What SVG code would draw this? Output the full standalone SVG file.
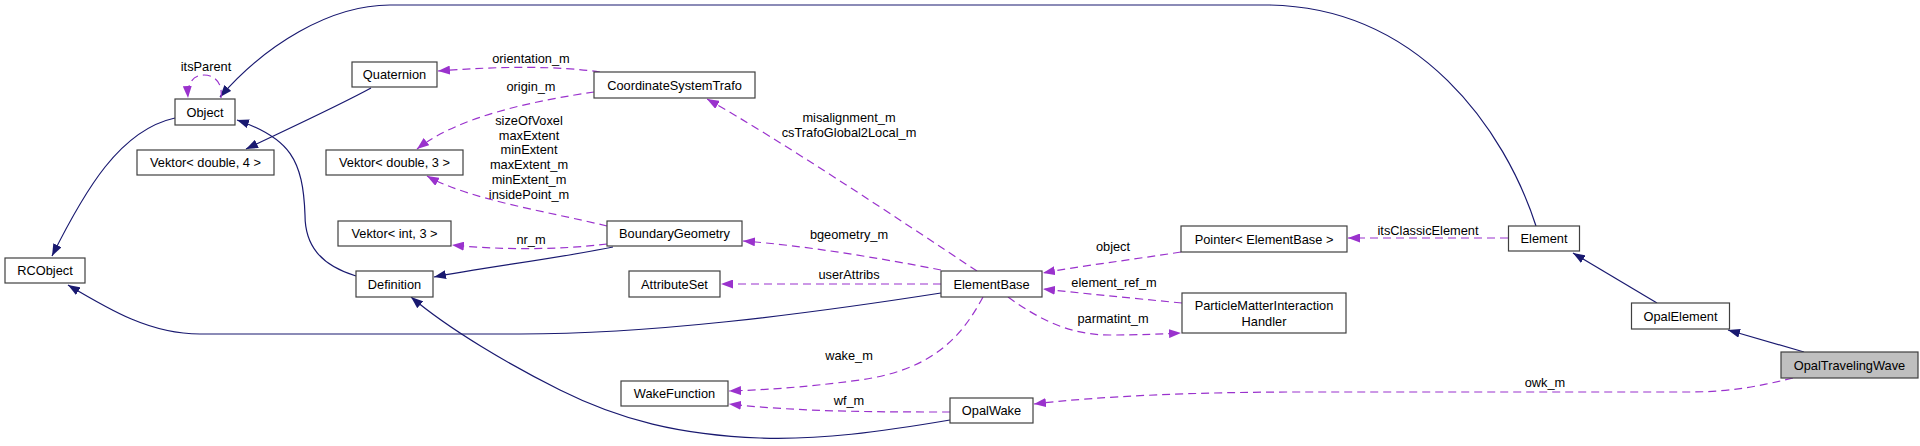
<svg xmlns="http://www.w3.org/2000/svg" width="1920" height="446" viewBox="0 0 1920 446">
<style>
.n rect{fill:#fff;stroke:#404040;stroke-width:1.2}
.n text,.lbl{font-family:"Liberation Sans",Arial,sans-serif;font-size:12.8px;fill:#000}
.n text{text-anchor:middle}
.lbl{text-anchor:middle}
.inh{fill:none;stroke:#191970;stroke-width:1.2}
.mem{fill:none;stroke:#9a32cd;stroke-width:1.2;stroke-dasharray:8,5}
.inh{marker-end:url(#ab)}
.mem{marker-end:url(#ap)}
</style>
<defs>
<marker id="ab" markerUnits="userSpaceOnUse" viewBox="0 0 12 9" refX="12" refY="4.5" markerWidth="12" markerHeight="9" orient="auto"><path d="M0,0 L12,4.5 L0,9 z" fill="#191970"/></marker>
<marker id="ap" markerUnits="userSpaceOnUse" viewBox="0 0 12 9" refX="12" refY="4.5" markerWidth="12" markerHeight="9" orient="auto"><path d="M0,0 L12,4.5 L0,9 z" fill="#9a32cd"/></marker>
</defs>
<rect width="1920" height="446" fill="#fff"/>
<g id="edges">
<path class="inh" d="M1536,226 C1505,130 1420,8 1270,5 L390,5 C330,5 265,45 220,97"/>
<path class="mem" d="M221,98 C223,82 214,75 204,75 C194,75 187,82 188,98"/>
<path class="inh" d="M175,118 C120,130 85,190 52,256"/>
<path class="inh" d="M941,293 C800,315 650,334 520,334 L200,334 C150,334 110,310 68,285"/>
<path class="inh" d="M356,276 C320,265 305,245 305,215 C303,160 290,138 237,120"/>
<path class="inh" d="M371,88 C340,105 290,128 246,149"/>
<path class="mem" d="M600,72 C560,66 500,66 438,71"/>
<path class="mem" d="M594,92 C540,100 460,115 417,149"/>
<path class="mem" d="M607,226 C550,212 470,200 427,176"/>
<path class="mem" d="M607,244 C560,250 500,250 452,245"/>
<path class="inh" d="M613,247 C560,258 480,268 434,277"/>
<path class="inh" d="M950,420 C880,432 820,440 760,438 C680,435 620,420 560,390 C510,365 450,330 411,297"/>
<path class="mem" d="M941,270 C880,258 800,245 743,241"/>
<path class="mem" d="M941,284 L721,284"/>
<path class="mem" d="M977,271 C900,220 780,140 707,99"/>
<path class="mem" d="M1181,252 C1130,260 1080,266 1043,273"/>
<path class="mem" d="M1182,303 C1130,298 1080,293 1043,289"/>
<path class="mem" d="M1008,297 C1040,320 1070,335 1110,335 C1140,335 1160,334 1181,333"/>
<path class="mem" d="M983,297 C960,340 930,370 860,380 C800,388 760,390 729,391"/>
<path class="mem" d="M950,412 C880,412 800,412 729,404"/>
<path class="mem" d="M1508,238 L1348,238"/>
<path class="inh" d="M1657,303 L1573,253"/>
<path class="inh" d="M1804,352 L1728,330"/>
<path class="mem" d="M1793,378 C1760,386 1730,392 1690,392 L1300,392 C1200,392 1100,396 1034,404"/>
<text class="lbl" x="206" y="71">itsParent</text>
<text class="lbl" x="531" y="63">orientation_m</text>
<text class="lbl" x="531" y="91">origin_m</text>
<text class="lbl" x="529" y="125">sizeOfVoxel</text>
<text class="lbl" x="529" y="139.7">maxExtent</text>
<text class="lbl" x="529" y="154.4">minExtent</text>
<text class="lbl" x="529" y="169.1">maxExtent_m</text>
<text class="lbl" x="529" y="183.8">minExtent_m</text>
<text class="lbl" x="529" y="198.5">insidePoint_m</text>
<text class="lbl" x="531" y="244">nr_m</text>
<text class="lbl" x="849" y="122">misalignment_m</text>
<text class="lbl" x="849" y="137">csTrafoGlobal2Local_m</text>
<text class="lbl" x="849" y="239">bgeometry_m</text>
<text class="lbl" x="849" y="279">userAttribs</text>
<text class="lbl" x="849" y="360">wake_m</text>
<text class="lbl" x="849" y="405">wf_m</text>
<text class="lbl" x="1113" y="251">object</text>
<text class="lbl" x="1114" y="287">element_ref_m</text>
<text class="lbl" x="1113" y="323">parmatint_m</text>
<text class="lbl" x="1428" y="235">itsClassicElement</text>
<text class="lbl" x="1545" y="387">owk_m</text>
</g>
<g id="Object" class="n"><rect x="175" y="99" width="60" height="26"/><text x="205" y="116.5">Object</text></g>
<g id="Quaternion" class="n"><rect x="352" y="62" width="85" height="25"/><text x="394.5" y="79">Quaternion</text></g>
<g id="VektorDouble4" class="n"><rect x="137" y="150" width="137" height="25"/><text x="205.5" y="167">Vektor&lt; double, 4 &gt;</text></g>
<g id="VektorDouble3" class="n"><rect x="326" y="150" width="137" height="25"/><text x="394.5" y="167">Vektor&lt; double, 3 &gt;</text></g>
<g id="RCObject" class="n"><rect x="5" y="258" width="80" height="25"/><text x="45" y="275">RCObject</text></g>
<g id="VektorInt3" class="n"><rect x="338" y="221" width="113" height="25"/><text x="394.5" y="238">Vektor&lt; int, 3 &gt;</text></g>
<g id="Definition" class="n"><rect x="356" y="271" width="77" height="26"/><text x="394.5" y="288.5">Definition</text></g>
<g id="CoordinateSystemTrafo" class="n"><rect x="594" y="72" width="161" height="26"/><text x="674.5" y="89.5">CoordinateSystemTrafo</text></g>
<g id="BoundaryGeometry" class="n"><rect x="607" y="221" width="135" height="25"/><text x="674.5" y="238">BoundaryGeometry</text></g>
<g id="AttributeSet" class="n"><rect x="629" y="271" width="91" height="26"/><text x="674.5" y="288.5">AttributeSet</text></g>
<g id="WakeFunction" class="n"><rect x="621" y="381" width="107" height="25"/><text x="674.5" y="398">WakeFunction</text></g>
<g id="ElementBase" class="n"><rect x="941" y="271" width="101" height="26"/><text x="991.5" y="288.5">ElementBase</text></g>
<g id="PointerElementBase" class="n"><rect x="1181" y="226" width="166" height="26"/><text x="1264" y="243.5">Pointer&lt; ElementBase &gt;</text></g>
<g id="ParticleMatterInteractionHandler" class="n"><rect x="1182" y="293" width="164" height="40"/><text x="1264" y="309.5">ParticleMatterInteraction</text><text x="1264" y="325.5">Handler</text></g>
<g id="OpalWake" class="n"><rect x="950" y="398" width="83" height="25"/><text x="991.5" y="415">OpalWake</text></g>
<g id="Element" class="n"><rect x="1508.5" y="226" width="71" height="25"/><text x="1544" y="243">Element</text></g>
<g id="OpalElement" class="n"><rect x="1631.5" y="303" width="98" height="26"/><text x="1680.5" y="320.5">OpalElement</text></g>
<g id="OpalTravelingWave" class="n"><rect x="1781" y="352" width="137" height="26" style="fill:#bfbfbf"/><text x="1849.5" y="369.5">OpalTravelingWave</text></g>
</svg>
